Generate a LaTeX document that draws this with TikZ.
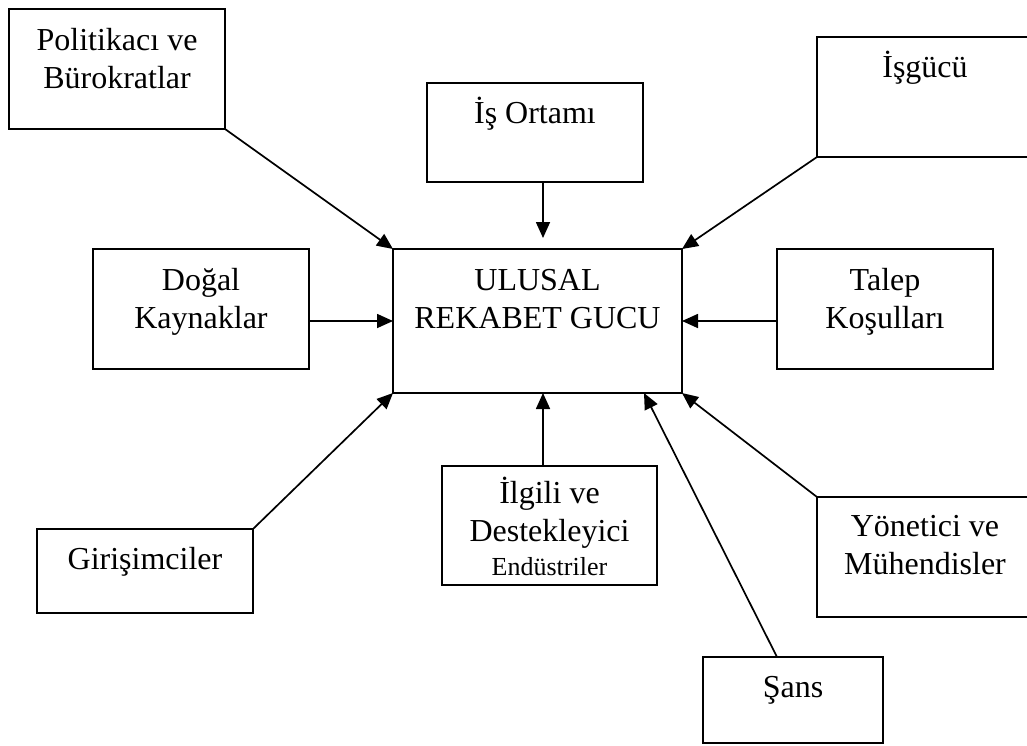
\documentclass[tikz,border=0pt]{standalone}
\usepackage{fontspec}
\setmainfont{Liberation Serif}
\usetikzlibrary{arrows.meta}
\tikzset{
  box/.style={draw, line width=1.7pt, inner sep=0pt, outer sep=0pt},
  lbl/.style={anchor=base, align=center, inner sep=0pt, font=\fontsize{32}{38}\selectfont},
  arr/.style={line width=1.7pt, -{Triangle[length=16pt,width=14pt]}}
}
\begin{document}
\begin{tikzpicture}[x=1pt,y=-1pt]
\useasboundingbox (0,0) rectangle (1027,745);
\clip (0,0) rectangle (1027,745);
\fill[white] (0,0) rectangle (1027,745);

% boxes
\node[box, minimum width=216pt, minimum height=120pt] (pol) at (117,69) {};
\node[box, minimum width=216pt, minimum height=99pt]  (ort) at (535,132.5) {};
\node[box, minimum width=216pt, minimum height=120pt] (isg) at (925,97) {};
\node[box, minimum width=216pt, minimum height=120pt] (dog) at (201,309) {};
\node[box, minimum width=289pt, minimum height=144pt] (mid) at (537.5,321) {};
\node[box, minimum width=216pt, minimum height=120pt] (tal) at (885,309) {};
\node[box, minimum width=216pt, minimum height=84pt]  (gir) at (145,571) {};
\node[box, minimum width=215pt, minimum height=119pt] (ilg) at (549.5,525.5) {};
\node[box, minimum width=216pt, minimum height=120pt] (yon) at (925,557) {};
\node[box, minimum width=180pt, minimum height=86pt]  (san) at (793,700) {};

% labels (anchored at the baseline of the last line)
\node[lbl] (polt) at ([yshift=-79pt]pol.north) {Politikacı ve\\Bürokratlar};
\node[lbl] (ortt) at ([yshift=-40pt]ort.north) {İş Ortamı};
\node[lbl] (isgt) at ([yshift=-40pt]isg.north) {İşgücü};
\node[lbl] (dogt) at ([yshift=-79pt]dog.north) {Doğal\\Kaynaklar};
\node[lbl] (midt) at ([yshift=-79pt]mid.north) {ULUSAL\\REKABET GUCU};
\node[lbl] (talt) at ([yshift=-79pt]tal.north) {Talep\\Koşulları};
\node[lbl] (girt) at ([yshift=-40pt]gir.north) {Girişimciler};
\node[lbl] (ilgt) at ([yshift=-109pt]ilg.north) {İlgili ve\\Destekleyici\\[-4pt]{\fontsize{26}{32}\selectfont Endüstriler}};
\node[lbl] (yont) at ([yshift=-77pt]yon.north) {Yönetici ve\\Mühendisler};
\node[lbl] (sant) at ([yshift=-40pt]san.north) {Şans};

% connectors
\draw[arr] (pol.south east) -- (mid.north west);
\draw[arr] ([xshift=8pt]ort.south) -- ([xshift=5.5pt,yshift=11pt]mid.north);
\draw[arr] (isg.south west) -- (mid.north east);
\draw[arr] (dog.east |- mid.west) -- (mid.west);
\draw[arr] (tal.west |- mid.east) -- (mid.east);
\draw[arr] (gir.north east) -- (mid.south west);
\draw[arr] ([xshift=-6.5pt]ilg.north) -- ([xshift=5.5pt]mid.south);
\draw[arr] (yon.north west) -- (mid.south east);
\draw[arr] ([xshift=-16pt]san.north) -- ([xshift=-38pt]mid.south east);
\end{tikzpicture}
\end{document}
